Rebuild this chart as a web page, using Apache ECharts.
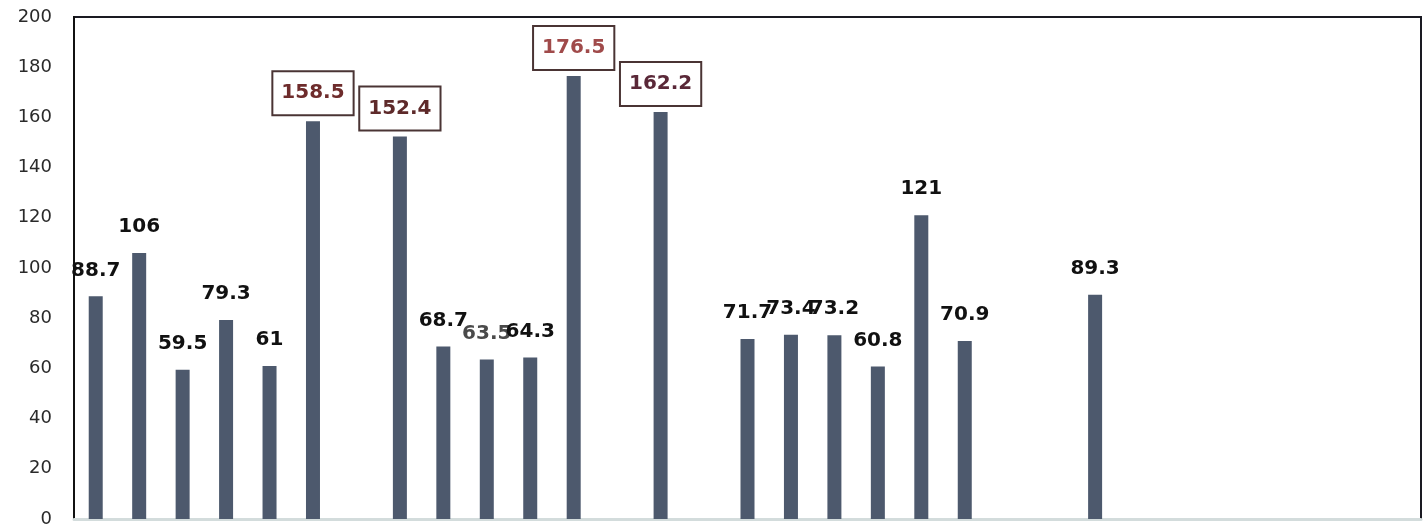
<!DOCTYPE html>
<html>
<head>
<meta charset="utf-8">
<script src="https://cdn.jsdelivr.net/npm/echarts@6/dist/echarts.min.js"></script>
<style>
html,body{margin:0;padding:0;background:#fff;}
#c{width:1424px;height:528px;}
</style>
</head>
<body>
<div id="c"></div>
<script>
const categories = ["1","2","3","4","5","6","7","8","9","10","11","12","13","14","15","16","17","18","19","20","21","22","23","24","25","26","27","28","29","30","31"];
const values = [88.7,106,59.5,79.3,61,158.5,null,152.4,68.7,63.5,64.3,176.5,null,162.2,null,71.7,73.4,73.2,60.8,121,70.9,null,null,89.3,null,null,null,null,null,null,null];
const boxedIndex = [5,7,11,13];
const boxedTextColor = ["#6e2c2c","#5e2a2a","#a04a4a","#5a2838"];
const yMin = 0, yMax = 200, yStep = 20;

const seriesData = values.map((v, i) => {
  const b = boxedIndex.indexOf(i);
  if (v === null) return null;
  if (b >= 0) {
    return {
      value: v,
      label: {
        color: boxedTextColor[b],
        borderColor: "#4a3434",
        borderWidth: 2,
        backgroundColor: "#ffffff",
        padding: [11, 8],
        distance: 7
      }
    };
  }
  if (i === 9) return { value: v, label: { color: "#4a4a4a" } };
  return v;
});

const chart = echarts.init(document.getElementById('c'), null, {renderer:'canvas'});
chart.setOption({
  animation: false,
  backgroundColor: '#ffffff',
  grid: { left: 74, right: 3, top: 17, bottom: 8, show: true, borderColor: '#1a1a22', borderWidth: 2, backgroundColor: 'transparent' },
  xAxis: {
    type: 'category',
    data: categories,
    axisLine: { show: true, lineStyle: { color: '#d3dcdc', width: 3 } },
    axisTick: { show: false },
    axisLabel: { show: false },
    splitLine: { show: false }
  },
  yAxis: {
    type: 'value',
    min: yMin, max: yMax, interval: yStep,
    axisLine: { show: true, lineStyle: { color: '#111111', width: 2 } },
    axisTick: { show: false },
    splitLine: { show: false },
    axisLabel: { color: '#2a2a2a', fontFamily: 'DejaVu Sans', fontSize: 18, margin: 22 }
  },
  series: [{
    type: 'bar',
    data: seriesData,
    barWidth: 14,
    itemStyle: { color: '#4d596d' },
    label: {
      show: true,
      position: 'top',
      distance: 16,
      color: '#111111',
      fontFamily: 'DejaVu Sans',
      fontWeight: 'bold',
      fontSize: 20
    },
    z: 1
  }]
});
</script>
</body>
</html>
